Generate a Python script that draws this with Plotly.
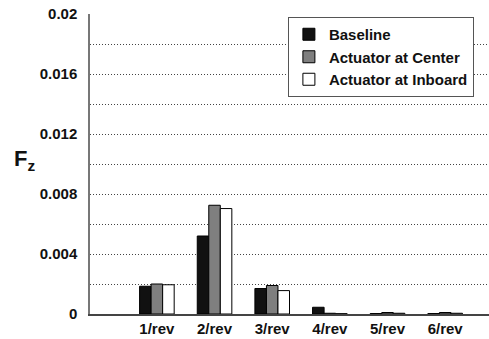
import plotly.graph_objects as go

categories = ["1/rev", "2/rev", "3/rev", "4/rev", "5/rev", "6/rev"]
baseline = [0.00185, 0.0052, 0.0017, 0.00045, 0.00003, 0.00003]
center = [0.0020, 0.00725, 0.0019, 0.00005, 0.0001, 0.0001]
inboard = [0.00195, 0.00703, 0.00156, 0.00002, 0.00005, 0.00005]
series_names = ["Baseline", "Actuator at Center", "Actuator at Inboard"]
series_colors = ["#111111", "#7f7f7f", "#ffffff"]
y_tickvals = [0, 0.004, 0.008, 0.012, 0.016, 0.02]
y_ticktext = ["0", "0.004", "0.008", "0.012", "0.016", "0.02"]

FONT = "Liberation Sans, Arial, sans-serif"

fig = go.Figure()
for name, vals, col in zip(series_names, [baseline, center, inboard], series_colors):
    fig.add_trace(go.Bar(
        x=categories, y=vals, name=name,
        marker=dict(color=col, line=dict(color="#000000", width=1)),
    ))

xr = [-1.16, 5.76]
top_ticks = [i - 0.17 for i in range(len(categories))]

fig.update_layout(
    width=489, height=339,
    margin=dict(l=90, r=0, t=14, b=25),
    paper_bgcolor="white", plot_bgcolor="white",
    barmode="group", bargap=0.4, bargroupgap=0,
    font=dict(family=FONT, size=15, color="#111111", weight="bold"),
    showlegend=True,
    legend=dict(
        x=0.496, xanchor="left", y=0.99, yanchor="top",
        bgcolor="white", bordercolor="#555555", borderwidth=1,
        font=dict(family=FONT, size=15, color="#111111", weight="bold"),
        tracegroupgap=0, itemwidth=30,
    ),
    xaxis=dict(
        type="category", range=xr,
        showline=True, linecolor="#444444", linewidth=1.5,
        showgrid=False, ticks="", zeroline=False,
        tickfont=dict(family=FONT, size=15, weight="bold"),
    ),
    xaxis2=dict(
        overlaying="x", side="top", type="linear", range=xr,
        showline=True, linecolor="#444444", linewidth=1.5,
        tickvals=top_ticks, ticks="inside", ticklen=3, tickcolor="#444444",
        showticklabels=False, showgrid=False, zeroline=False,
    ),
    yaxis=dict(
        range=[0, 0.02], tickvals=y_tickvals, ticktext=y_ticktext,
        showline=True, linecolor="#777777", linewidth=1.5,
        showgrid=True, gridcolor="#444444", gridwidth=1, griddash="1px,2px",
        minor=dict(dtick=0.002, showgrid=True, gridcolor="#444444", gridwidth=1, griddash="1px,2px"),
        zeroline=False, ticks="", ticklabelstandoff=8,
        tickfont=dict(family=FONT, size=15, weight="bold"),
    ),
)

fig.add_annotation(
    text="F<sub>z</sub>", xref="paper", yref="paper",
    x=-0.165, y=0.515, xanchor="center", yanchor="middle", showarrow=False,
    font=dict(family=FONT, size=22, color="#111111", weight="bold"),
)

fig.write_html("out.html")
